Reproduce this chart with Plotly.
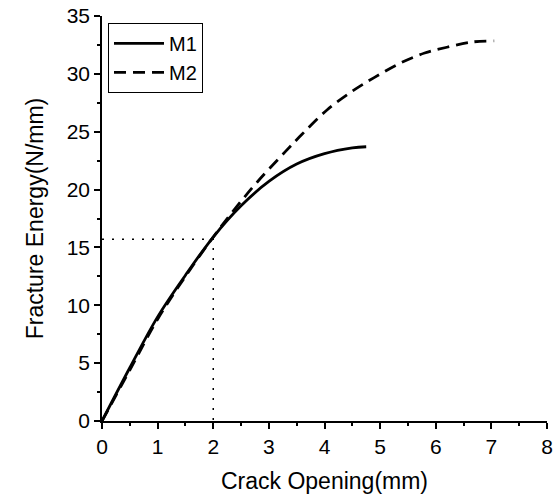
import plotly.graph_objects as go

m1_x = [0, 0.5, 1.0, 1.5, 2.0, 2.5, 3.0, 3.5, 4.0, 4.5, 4.75]
m1_y = [0, 4.6, 9.0, 12.6, 15.9, 18.6, 20.7, 22.2, 23.1, 23.6, 23.7]

m2_x = [0, 0.5, 1.0, 1.5, 2.0, 2.4, 2.8, 3.3, 3.6, 4.05, 4.5, 4.9, 5.35, 5.8, 6.2, 6.65, 7.05]
m2_y = [0, 4.4, 8.8, 12.5, 15.9, 18.4, 20.7, 23.3, 24.8, 26.9, 28.5, 29.7, 30.9, 31.8, 32.3, 32.75, 32.85]

ref_x = [0, 2, 2]
ref_y = [15.7, 15.7, 0]

fig = go.Figure()
fig.add_trace(go.Scatter(x=m1_x, y=m1_y, mode="lines", name="M1",
                         line=dict(color="black", width=2.8, shape="spline")))
fig.add_trace(go.Scatter(x=m2_x, y=m2_y, mode="lines", name="M2",
                         line=dict(color="black", width=2.8, dash="12px,7px", shape="spline")))
fig.add_trace(go.Scatter(x=ref_x, y=ref_y, mode="lines", showlegend=False,
                         line=dict(color="black", width=1.5, dash="2px,8px")))

font = "Liberation Sans, Arial, sans-serif"
fig.update_layout(
    width=560, height=500,
    margin=dict(l=102, r=13, t=16, b=79),
    paper_bgcolor="white", plot_bgcolor="white",
    font=dict(family=font, color="black", size=21),
    legend=dict(x=0.0135, y=0.983, xanchor="left", yanchor="top",
                bordercolor="black", borderwidth=1, bgcolor="white",
                font=dict(size=20), itemwidth=50),
    xaxis=dict(range=[0, 8], dtick=1, showline=True, linecolor="black", linewidth=1.5,
               ticks="outside", ticklen=6, tickwidth=1.5, tickcolor="black",
               showgrid=False, zeroline=False, automargin=False,
               minor=dict(dtick=0.5, ticks="outside", ticklen=3, tickwidth=1.5, tickcolor="black"),
               title=dict(text="Crack Opening(mm)", font=dict(size=23), standoff=16)),
    yaxis=dict(range=[0, 35], dtick=5, showline=True, linecolor="black", linewidth=1.5,
               ticks="outside", ticklen=6, tickwidth=1.5, tickcolor="black",
               showgrid=False, zeroline=False, automargin=False,
               minor=dict(dtick=2.5, ticks="outside", ticklen=3, tickwidth=1.5, tickcolor="black"),
               title=dict(text="Fracture Energy(N/mm)", font=dict(size=23), standoff=17)),
)
fig.write_html("out.html")
